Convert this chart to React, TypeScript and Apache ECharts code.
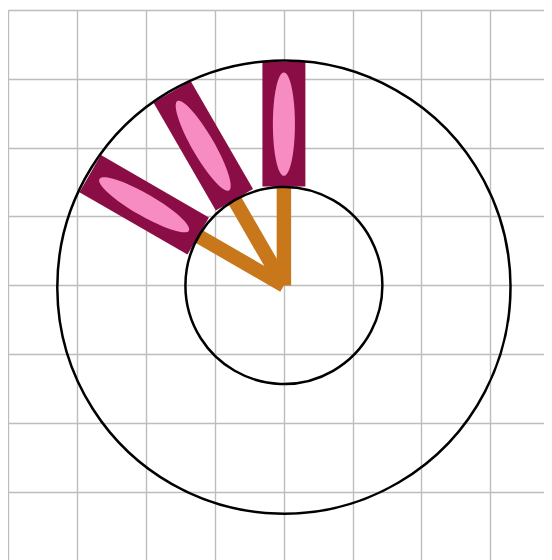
import React, { useEffect, useRef } from "react";
import * as echarts from "echarts";

// Grid (data units): ticks from -4 to 4, one unit per cell
const axisMin = -4;
const axisMax = 4;
const tickInterval = 1;

// Petal directions, degrees counter-clockwise from straight up
const petalAngles = [0, 30, 60];
// Circle radii (data units): inner, outer
const ringRadii = [1.43, 3.29];
// Petal extent along the radius (data units)
const petalInner = 1.437;
const petalOuter = 3.248;

const STEM = "#c8771b";
const PETAL = "#8b0d45";
const SEED = "#f78cc3";

export default function App() {
  const ref = useRef<HTMLDivElement>(null);
  useEffect(() => {
    if (!ref.current) return;
    const chart = echarts.init(ref.current, undefined, { renderer: "svg" });
    const axisCommon = {
      type: "value" as const,
      min: axisMin,
      max: axisMax,
      interval: tickInterval,
      axisLine: { show: false },
      axisTick: { show: false },
      axisLabel: { show: false },
      splitLine: { show: true, lineStyle: { color: "#bdbdbd", width: 1.4 } },
    };
    chart.setOption({
      animation: false,
      grid: { left: 0.4, top: 2, width: 551, height: 551 },
      xAxis: axisCommon,
      yAxis: axisCommon,
      series: [
        {
          type: "custom",
          coordinateSystem: "cartesian2d",
          data: petalAngles.map((a) => [a]),
          encode: { x: -1, y: -1 },
          renderItem: (params: any, api: any) => {
            const angle = api.value(0);
            const c = api.coord([0, 0]);
            const k = api.size([1, 1])[0];
            return {
              type: "group",
              x: c[0],
              y: c[1],
              rotation: (angle * Math.PI) / 180,
              children: [
                {
                  type: "line",
                  shape: { x1: 0, y1: 0, x2: 0, y2: -petalInner * k },
                  style: { stroke: STEM, lineWidth: 0.21 * k, lineCap: "butt" },
                },
                {
                  type: "rect",
                  shape: {
                    x: -0.312 * k,
                    y: -petalOuter * k,
                    width: 0.624 * k,
                    height: (petalOuter - petalInner) * k,
                  },
                  style: { fill: PETAL },
                },
                {
                  type: "ellipse",
                  shape: {
                    cx: 0,
                    cy: (-(petalInner + petalOuter) / 2) * k,
                    rx: 0.16 * k,
                    ry: 0.75 * k,
                  },
                  style: { fill: SEED },
                },
              ],
            };
          },
        },
        {
          type: "custom",
          coordinateSystem: "cartesian2d",
          data: [[0]],
          encode: { x: -1, y: -1 },
          z: 5,
          renderItem: (params: any, api: any) => {
            const c = api.coord([0, 0]);
            const k = api.size([1, 1])[0];
            return {
              type: "group",
              children: ringRadii.map((r) => ({
                type: "circle",
                shape: { cx: c[0], cy: c[1], r: r * k },
                style: { fill: "none", stroke: "#000", lineWidth: 2.5 },
              })),
            };
          },
        },
      ],
    });
    return () => chart.dispose();
  }, []);
  return (
    <div style={{ width: 544, height: 552, overflow: "hidden" }}>
      <div ref={ref} style={{ width: 560, height: 560 }} />
    </div>
  );
}
